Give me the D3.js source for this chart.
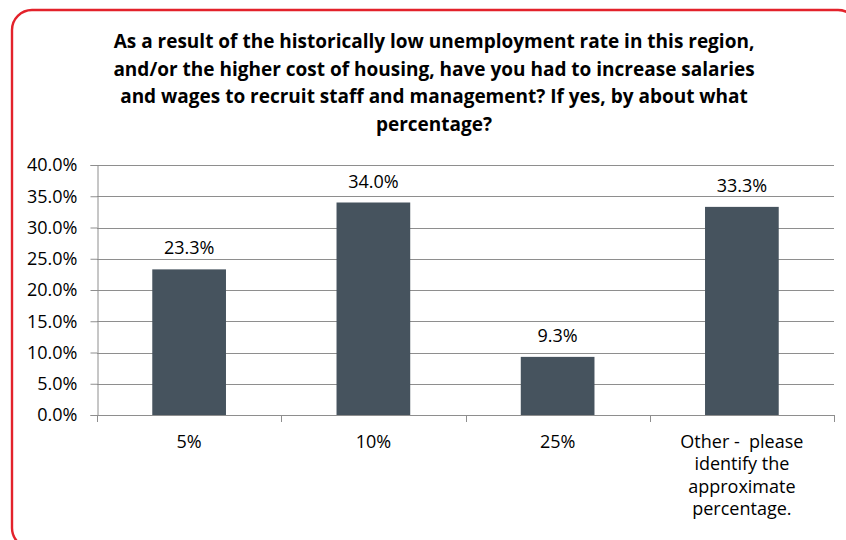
<!DOCTYPE html>
<html>
<head>
<meta charset="utf-8">
<script src="https://cdn.jsdelivr.net/npm/d3@7"></script>
<style>
  html, body { margin: 0; padding: 0; background: #fff; overflow: hidden; }
  svg { display: block; }
  text { font-family: "Open Sans", "Noto Sans", sans-serif; fill: #000; }
</style>
</head>
<body>
<svg id="chart" width="846" height="540"></svg>
<script>
// Survey responses: share of employers by approximate salary increase
const categories = ["5%", "10%", "25%", "Other -  please identify the approximate percentage."];
const categoryLines = [["5%"], ["10%"], ["25%"], ["Other -  please", "identify the", "approximate", "percentage."]];
const values = [23.3, 34.0, 9.3, 33.3];
const yTicks = [0, 5, 10, 15, 20, 25, 30, 35, 40];
const titleLines = [
  "As a result of the historically low unemployment rate in this region,",
  "and/or the higher cost of housing, have you had to increase salaries",
  "and wages to recruit staff and management? If yes, by about what",
  "percentage?"
];

const svg = d3.select("#chart");
const plot = { left: 97, right: 834, top: 165, bottom: 415 };
const barColor = "#46535e";
const gridColor = "#8e8e8e";
const labelSize = 18;

// Outer rounded frame (runs past the right and bottom edges)
svg.append("rect")
  .attr("x", 12).attr("y", 10)
  .attr("width", 846).attr("height", 538)
  .attr("rx", 20).attr("ry", 20)
  .attr("fill", "none")
  .attr("stroke", "#e3222b")
  .attr("stroke-width", 2.4);

// Title
svg.append("g").selectAll("text")
  .data(titleLines)
  .join("text")
  .attr("x", 434)
  .attr("y", (d, i) => 48 + i * 27.5)
  .attr("text-anchor", "middle")
  .attr("font-size", 19)
  .attr("font-weight", "bold")
  .text(d => d);

const x = d3.scaleBand()
  .domain(categories)
  .range([plot.left, plot.right])
  .paddingInner(0.6)
  .paddingOuter(0.3);

const y = d3.scaleLinear()
  .domain([0, 40])
  .range([plot.bottom, plot.top]);

// Horizontal gridlines
svg.append("g").selectAll("line")
  .data(yTicks.filter(d => d > 0))
  .join("line")
  .attr("x1", plot.left).attr("x2", plot.right)
  .attr("y1", d => Math.round(y(d)) + 0.5)
  .attr("y2", d => Math.round(y(d)) + 0.5)
  .attr("stroke", gridColor)
  .attr("stroke-width", 1);

// Y axis
const yAxis = svg.append("g")
  .attr("transform", `translate(${plot.left + 0.5},0)`)
  .call(d3.axisLeft(y).tickValues(yTicks).tickSize(7).tickPadding(13)
    .tickFormat(d => d.toFixed(1) + "%"));
yAxis.select(".domain").attr("stroke", gridColor);
yAxis.selectAll(".tick line").attr("stroke", gridColor);
yAxis.selectAll(".tick text")
  .attr("font-family", "'Open Sans', 'Noto Sans', sans-serif")
  .attr("font-size", labelSize)
  .attr("fill", "#000");

// Bars
svg.append("g").selectAll("rect")
  .data(values)
  .join("rect")
  .attr("x", (d, i) => x(categories[i]))
  .attr("y", d => y(d))
  .attr("width", x.bandwidth())
  .attr("height", d => y(0) - y(d))
  .attr("fill", barColor);

// Value labels
svg.append("g").selectAll("text")
  .data(values)
  .join("text")
  .attr("x", (d, i) => x(categories[i]) + x.bandwidth() / 2)
  .attr("y", d => y(d) - 15)
  .attr("text-anchor", "middle")
  .attr("font-size", labelSize)
  .text(d => d.toFixed(1) + "%");

// X axis baseline and category dividers
const step = x.step();
const edges = d3.range(categories.length + 1).map(i =>
  i === 0 ? plot.left : (i === categories.length ? plot.right : x(categories[i]) - step * x.paddingInner() / 2));
svg.append("line")
  .attr("x1", plot.left).attr("x2", plot.right)
  .attr("y1", y(0) + 0.5).attr("y2", y(0) + 0.5)
  .attr("stroke", gridColor);
svg.append("g").selectAll("line")
  .data(edges)
  .join("line")
  .attr("x1", d => Math.round(d) + 0.5).attr("x2", d => Math.round(d) + 0.5)
  .attr("y1", y(0)).attr("y2", y(0) + 7)
  .attr("stroke", gridColor);

// Category labels
const catG = svg.append("g").selectAll("text")
  .data(categoryLines)
  .join("text")
  .attr("text-anchor", "middle")
  .attr("font-size", labelSize)
  .attr("xml:space", "preserve")
  .attr("x", (d, i) => x(categories[i]) + x.bandwidth() / 2)
  .attr("y", 448);
catG.selectAll("tspan")
  .data(d => d)
  .join("tspan")
  .attr("x", function() { return this.parentNode.getAttribute("x"); })
  .attr("dy", (d, i) => i === 0 ? 0 : 22.4)
  .text(d => d);
</script>
</body>
</html>
